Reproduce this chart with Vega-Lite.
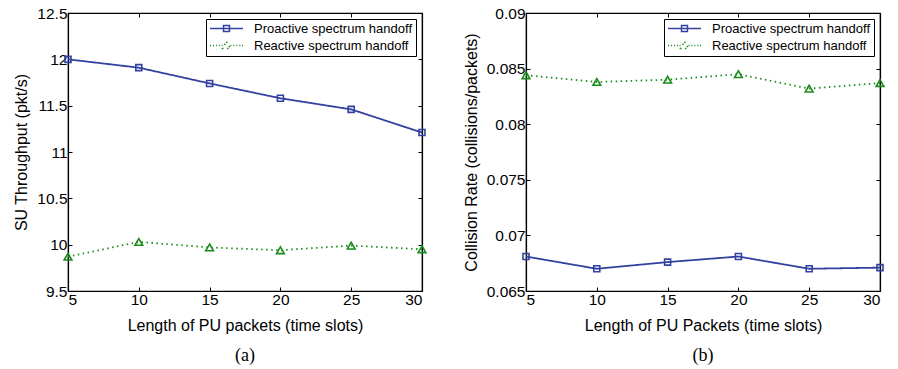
{
  "$schema": "https://vega.github.io/schema/vega-lite/v6.json",
  "background": "white",
  "padding": {"left": 13, "top": 5, "right": 5, "bottom": 0},
  "spacing": 32,
  "resolve": {"scale": {"color": "independent", "strokeDash": "independent"}, "legend": {"color": "independent"}},
  "config": {
    "font": "Liberation Sans",
    "view": {"stroke": "black", "strokeWidth": 1.2},
    "axis": {
      "grid": false,
      "domainColor": "black",
      "domainWidth": 1.2,
      "tickColor": "black",
      "tickWidth": 1,
      "tickSize": -4,
      "labelFont": "Liberation Sans",
      "labelFontSize": 15.5,
      "labelColor": "black",
      "titleFont": "Liberation Sans",
      "titleFontSize": 16,
      "titleFontWeight": "normal",
      "titleColor": "black",
      "labelPadding": 4
    },
    "legend": {
      "title": null,
      "strokeColor": "black",
      "fillColor": "white",
      "padding": 3,
      "labelFont": "Liberation Sans",
      "labelFontSize": 13,
      "labelColor": "black",
      "symbolSize": 121,
      "symbolOffset": 11,
      "symbolStrokeWidth": 1.5,
      "labelOffset": 21,
      "rowPadding": 2
    },
    "title": {"font": "Liberation Serif", "fontSize": 18, "fontWeight": "normal", "color": "black", "orient": "bottom", "offset": 13}
  },
  "datasets": {
    "tp": [
      {"series": "Proactive spectrum handoff", "len": 5, "value": 12.0},
      {"series": "Proactive spectrum handoff", "len": 10, "value": 11.91},
      {"series": "Proactive spectrum handoff", "len": 15, "value": 11.74},
      {"series": "Proactive spectrum handoff", "len": 20, "value": 11.58},
      {"series": "Proactive spectrum handoff", "len": 25, "value": 11.46},
      {"series": "Proactive spectrum handoff", "len": 30, "value": 11.21},
      {"series": "Reactive spectrum handoff", "len": 5, "value": 9.87},
      {"series": "Reactive spectrum handoff", "len": 10, "value": 10.03},
      {"series": "Reactive spectrum handoff", "len": 15, "value": 9.97},
      {"series": "Reactive spectrum handoff", "len": 20, "value": 9.94},
      {"series": "Reactive spectrum handoff", "len": 25, "value": 9.99},
      {"series": "Reactive spectrum handoff", "len": 30, "value": 9.95}
    ],
    "cr": [
      {"series": "Proactive spectrum handoff", "len": 5, "value": 0.0681},
      {"series": "Proactive spectrum handoff", "len": 10, "value": 0.0670},
      {"series": "Proactive spectrum handoff", "len": 15, "value": 0.0676},
      {"series": "Proactive spectrum handoff", "len": 20, "value": 0.0681},
      {"series": "Proactive spectrum handoff", "len": 25, "value": 0.0670},
      {"series": "Proactive spectrum handoff", "len": 30, "value": 0.0671},
      {"series": "Reactive spectrum handoff", "len": 5, "value": 0.0844},
      {"series": "Reactive spectrum handoff", "len": 10, "value": 0.0838},
      {"series": "Reactive spectrum handoff", "len": 15, "value": 0.0840},
      {"series": "Reactive spectrum handoff", "len": 20, "value": 0.0845},
      {"series": "Reactive spectrum handoff", "len": 25, "value": 0.0832},
      {"series": "Reactive spectrum handoff", "len": 30, "value": 0.0837}
    ]
  },
  "hconcat": [
    {
      "width": 354,
      "height": 278,
      "data": {"name": "tp"},
      "title": {"text": "(a)"},
      "layer": [
        {
          "mark": {"type": "line", "strokeWidth": 1.8},
          "encoding": {
            "x": {"field": "len", "type": "quantitative", "scale": {"domain": [5, 30], "nice": false},
                  "axis": {"orient": "bottom", "title": "Length of PU packets (time slots)", "values": [5, 10, 15, 20, 25, 30], "labelPadding": 5, "titlePadding": 10}},
            "y": {"field": "value", "type": "quantitative", "scale": {"domain": [9.5, 12.5], "nice": false, "zero": false},
                  "axis": {"orient": "left", "title": "SU Throughput (pkt/s)", "values": [9.5, 10, 10.5, 11, 11.5, 12, 12.5], "format": "~g", "labelPadding": 5, "titlePadding": 7}},
            "color": {"field": "series", "type": "nominal",
                      "scale": {"domain": ["Proactive spectrum handoff", "Reactive spectrum handoff"], "range": ["#3341a0", "#1a8c1a"]},
                      "legend": {"orient": "top-right", "offset": 6, "symbolType": "M-3,0H3", "encode": {"symbols": {"update": {
                        "shape": {"signal": "datum.value === 'Proactive spectrum handoff' ? 'M-3,0H3M-0.54,-0.54H0.54V0.54H-0.54Z' : 'M-3,0h0.18M-2.46,0h0.18M-1.92,0h0.18M-1.38,0h0.18M-0.9,0h0.18M0.72,0h0.18M1.26,0h0.18M1.8,0h0.18M2.34,0h0.18M2.82,0h0.18M0,-0.72L0.72,0.54H-0.72Z'"},
                        "size": {"value": 121},
                        "fill": {"value": "transparent"}}}}}},
            "strokeDash": {"field": "series", "type": "nominal",
                           "scale": {"domain": ["Proactive spectrum handoff", "Reactive spectrum handoff"], "range": [[1, 0], [1.5, 3.5]]}, "legend": null}
          }
        },
        {
          "transform": [{"filter": "datum.series === 'Proactive spectrum handoff'"}],
          "mark": {"type": "point", "shape": "square", "size": 36, "filled": false, "strokeWidth": 1.6, "opacity": 1},
          "encoding": {
            "x": {"field": "len", "type": "quantitative", "scale": {"domain": [5, 30], "nice": false},
                  "axis": {"orient": "top", "title": null, "labels": false, "values": [5, 10, 15, 20, 25, 30]}},
            "y": {"field": "value", "type": "quantitative", "scale": {"domain": [9.5, 12.5], "nice": false, "zero": false},
                  "axis": {"orient": "right", "title": null, "labels": false, "values": [9.5, 10, 10.5, 11, 11.5, 12, 12.5]}},
            "color": {"field": "series", "type": "nominal"}
          }
        },
        {
          "transform": [{"filter": "datum.series === 'Reactive spectrum handoff'"}],
          "mark": {"type": "point", "shape": "triangle-up", "size": 60, "filled": false, "strokeWidth": 1.6, "opacity": 1},
          "encoding": {
            "x": {"field": "len", "type": "quantitative", "axis": null},
            "y": {"field": "value", "type": "quantitative", "axis": null},
            "color": {"field": "series", "type": "nominal"}
          }
        }
      ],
      "resolve": {"axis": {"x": "independent", "y": "independent"}}
    },
    {
      "width": 354,
      "height": 278,
      "data": {"name": "cr"},
      "title": {"text": "(b)"},
      "layer": [
        {
          "mark": {"type": "line", "strokeWidth": 1.8},
          "encoding": {
            "x": {"field": "len", "type": "quantitative", "scale": {"domain": [5, 30], "nice": false},
                  "axis": {"orient": "bottom", "title": "Length of PU Packets (time slots)", "values": [5, 10, 15, 20, 25, 30], "labelPadding": 5, "titlePadding": 10}},
            "y": {"field": "value", "type": "quantitative", "scale": {"domain": [0.065, 0.09], "nice": false, "zero": false},
                  "axis": {"orient": "left", "title": "Collision Rate (collisions/packets)", "values": [0.065, 0.07, 0.075, 0.08, 0.085, 0.09], "format": "~g", "labelPadding": 5, "titlePadding": 7}},
            "color": {"field": "series", "type": "nominal",
                      "scale": {"domain": ["Proactive spectrum handoff", "Reactive spectrum handoff"], "range": ["#3341a0", "#1a8c1a"]},
                      "legend": {"orient": "top-right", "offset": 6, "symbolType": "M-3,0H3", "encode": {"symbols": {"update": {
                        "shape": {"signal": "datum.value === 'Proactive spectrum handoff' ? 'M-3,0H3M-0.54,-0.54H0.54V0.54H-0.54Z' : 'M-3,0h0.18M-2.46,0h0.18M-1.92,0h0.18M-1.38,0h0.18M-0.9,0h0.18M0.72,0h0.18M1.26,0h0.18M1.8,0h0.18M2.34,0h0.18M2.82,0h0.18M0,-0.72L0.72,0.54H-0.72Z'"},
                        "size": {"value": 121},
                        "fill": {"value": "transparent"}}}}}},
            "strokeDash": {"field": "series", "type": "nominal",
                           "scale": {"domain": ["Proactive spectrum handoff", "Reactive spectrum handoff"], "range": [[1, 0], [1.5, 3.5]]}, "legend": null}
          }
        },
        {
          "transform": [{"filter": "datum.series === 'Proactive spectrum handoff'"}],
          "mark": {"type": "point", "shape": "square", "size": 36, "filled": false, "strokeWidth": 1.6, "opacity": 1},
          "encoding": {
            "x": {"field": "len", "type": "quantitative", "scale": {"domain": [5, 30], "nice": false},
                  "axis": {"orient": "top", "title": null, "labels": false, "values": [5, 10, 15, 20, 25, 30]}},
            "y": {"field": "value", "type": "quantitative", "scale": {"domain": [0.065, 0.09], "nice": false, "zero": false},
                  "axis": {"orient": "right", "title": null, "labels": false, "values": [0.065, 0.07, 0.075, 0.08, 0.085, 0.09]}},
            "color": {"field": "series", "type": "nominal"}
          }
        },
        {
          "transform": [{"filter": "datum.series === 'Reactive spectrum handoff'"}],
          "mark": {"type": "point", "shape": "triangle-up", "size": 60, "filled": false, "strokeWidth": 1.6, "opacity": 1},
          "encoding": {
            "x": {"field": "len", "type": "quantitative", "axis": null},
            "y": {"field": "value", "type": "quantitative", "axis": null},
            "color": {"field": "series", "type": "nominal"}
          }
        }
      ],
      "resolve": {"axis": {"x": "independent", "y": "independent"}}
    }
  ]
}
